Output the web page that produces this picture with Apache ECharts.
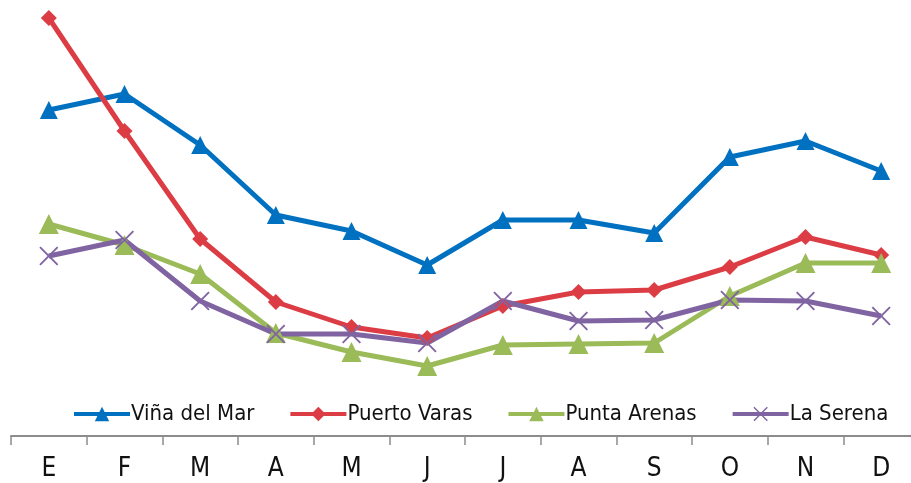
<!DOCTYPE html>
<html><head><meta charset="utf-8">
<script src="https://cdn.jsdelivr.net/npm/echarts@6/dist/echarts.min.js"></script>
<style>html,body{margin:0;padding:0;background:#fff;overflow:hidden}#c{width:930px;height:483px}</style>
</head><body><div id="c"></div>
<script>
const months = ['E','F','M','A','M','J','J','A','S','O','N','D'];
const vinaDelMar = [32.6, 34.2, 29.1, 22.1, 20.5, 17.1, 21.6, 21.6, 20.3, 27.9, 29.5, 26.5];
const puertoVaras = [41.8, 30.5, 19.7, 13.4, 10.9, 9.8, 13.0, 14.4, 14.6, 16.9, 19.9, 18.1];
const puntaArenas = [21.2, 19.1, 16.2, 10.3, 8.4, 7.0, 9.1, 9.2, 9.3, 14.0, 17.3, 17.3];
const laSerena = [18.0, 19.6, 13.5, 10.2, 10.2, 9.3, 13.5, 11.5, 11.6, 13.6, 13.5, 12.0];

const crossPath = 'path://M0,0.7 L0.7,0 L5,4.3 L9.3,0 L10,0.7 L5.7,5 L10,9.3 L9.3,10 L5,5.7 L0.7,10 L0,9.3 L4.3,5 Z';
const FONT = "'Liberation Sans Narrow','DejaVu Sans Condensed',sans-serif";

function mk(name, data, color, symbol, size) {
  return {
    name, type: 'line', data, symbol, symbolSize: size,
    lineStyle: {color, width: 5},
    itemStyle: {color},
    z: 2
  };
}

const chart = echarts.init(document.getElementById('c'), null, {renderer: 'canvas'});
chart.setOption({
  animation: false,
  grid: {left: 11, right: 11, top: 6, bottom: 47, containLabel: false},
  legend: {
    top: 403, left: 72, right: 0, padding: 0,
    itemWidth: 56, itemHeight: 18, itemGap: 34,
    lineStyle: {width: 4},
    textStyle: {fontFamily: FONT, fontSize: 22, color: '#111', padding: [0,0,0,-4]},
    data: ['Viña del Mar','Puerto Varas','Punta Arenas','La Serena']
  },
  xAxis: {
    type: 'category', data: months, boundaryGap: true,
    axisLine: {lineStyle: {color: '#8c8c8c', width: 2}},
    axisTick: {show: true, length: 9, lineStyle: {color: '#8c8c8c', width: 1.5}},
    axisLabel: {fontFamily: FONT, fontSize: 26, color: '#111', margin: 20}
  },
  yAxis: {
    type: 'value', min: 0, max: 43, show: false, splitLine: {show: false}
  },
  series: [
    mk('Viña del Mar', vinaDelMar, '#0070c0', 'triangle', 18),
    mk('Puerto Varas', puertoVaras, '#dc3d45', 'diamond', 16),
    mk('Punta Arenas', puntaArenas, '#9bbb59', 'triangle', 20),
    mk('La Serena', laSerena, '#8064a2', crossPath, 19)
  ]
});
</script></body></html>
